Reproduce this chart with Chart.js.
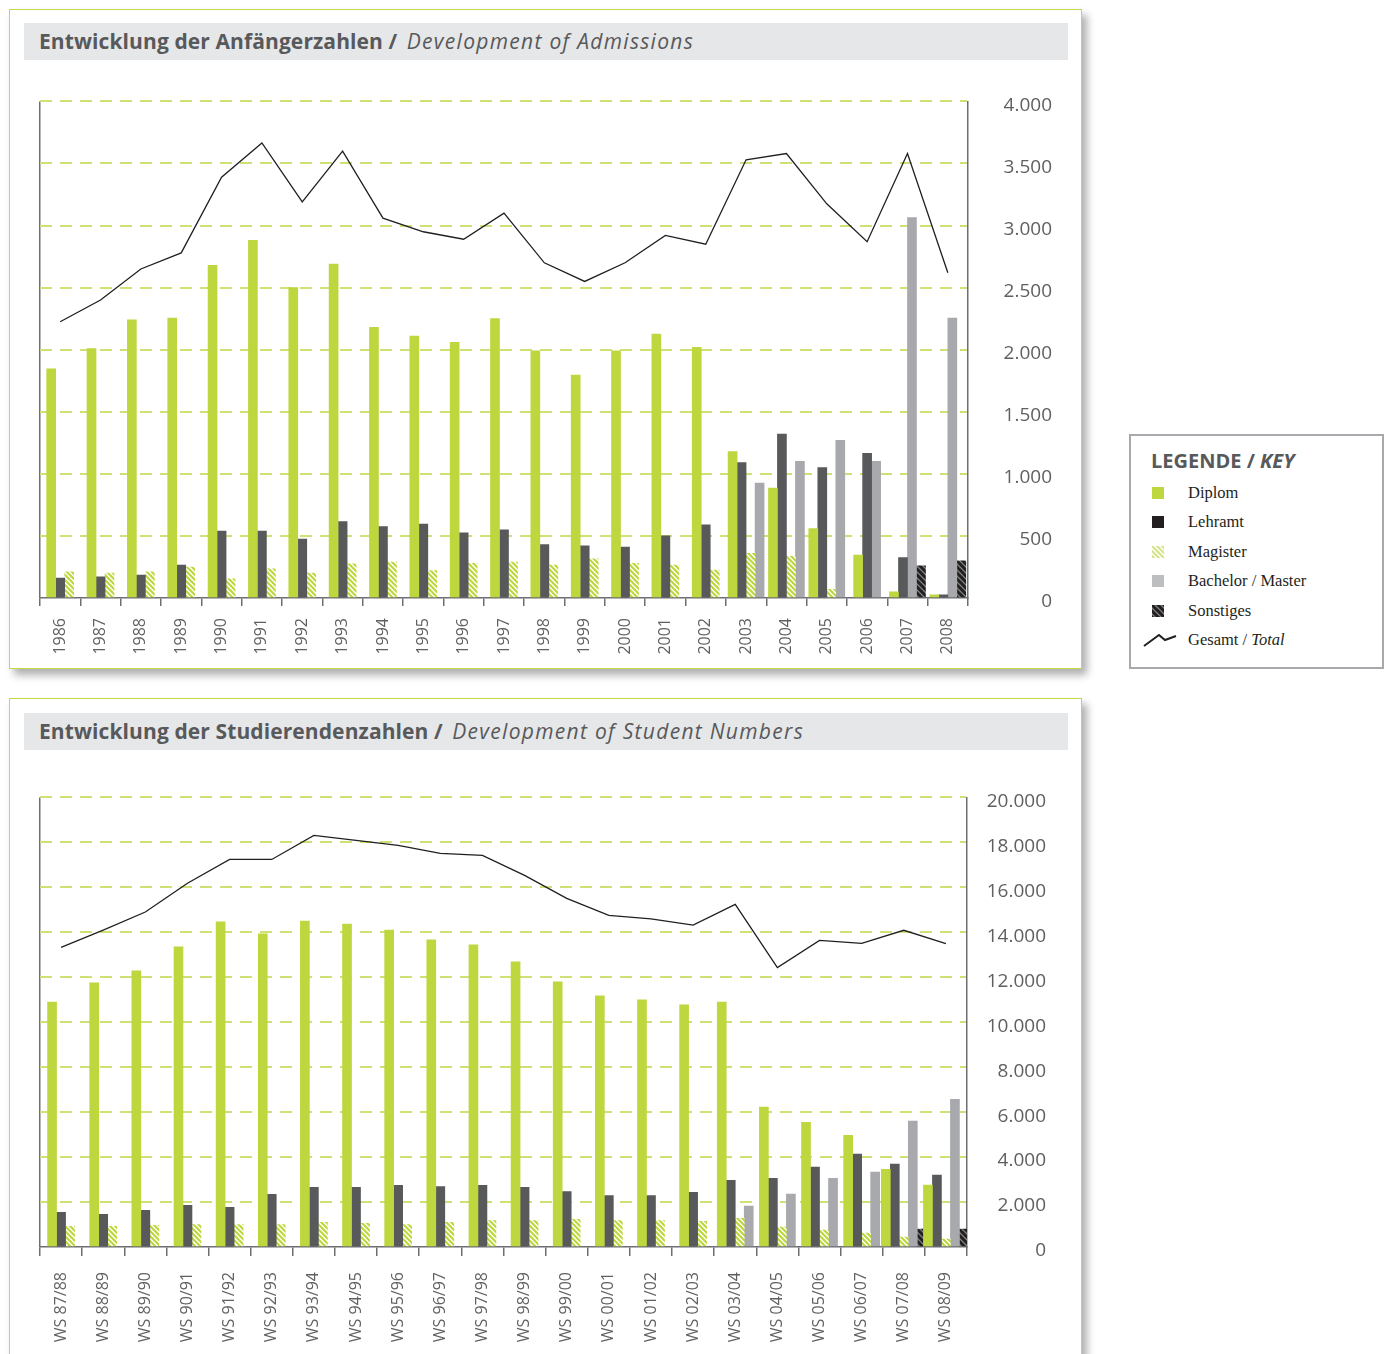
<!DOCTYPE html>
<html lang="de">
<head>
<meta charset="utf-8">
<title>Entwicklung der Anfänger- und Studierendenzahlen</title>
<script src="https://cdn.jsdelivr.net/npm/chart.js@4.4.1/dist/chart.umd.min.js"></script>
<style>
  html, body { margin: 0; padding: 0; background: #fff; }
  body { position: relative; width: 1391px; height: 1354px; overflow: hidden; font-family: "Open Sans", sans-serif; }
  .panel { position: absolute; left: 9px; width: 1071px; border: 1px solid #c4d946; background: #fff; box-shadow: 5px 6px 8px rgba(0,0,0,.32); }
  #panel1 { top: 9px; height: 658px; }
  #panel2 { top: 698px; height: 720px; }
  .title { position: absolute; left: 14px; width: 1044px; height: 37px; background: #e6e7e8; color: #58595b;
           font-size: 21px; line-height: 37px; padding-left: 15px; box-sizing: border-box; white-space: nowrap; }
  .title b { font-weight: 700; letter-spacing: 0.1px; }
  .title i { font-weight: 400; letter-spacing: 1.3px; margin-left: 4px; }
  #panel1 .title { top: 13px; }
  #panel2 .title { top: 14px; }
  .chart { position: absolute; left: 30px; width: 1040px; }
  #box1 { top: 90px; height: 580px; }
  #box2 { top: 786px; height: 568px; }
  #legend { position: absolute; left: 1129px; top: 434px; width: 255px; height: 235px; box-sizing: border-box;
            border: 2.5px solid #a7a9ac; background: #fff; }
  #legend .head { position: absolute; left: 20px; top: 13px; line-height: 24px; font-size: 20px; font-weight: 700; color: #58595b; white-space: nowrap; }
  #legend .row { position: absolute; left: 0; height: 20px; width: 100%; }
  #legend .row canvas { position: absolute; top: 4px; }
  #legend .row span { position: absolute; left: 57px; top: 0; line-height: 20px; font-family: "Liberation Serif", serif; font-size: 16.5px; color: #231f20; white-space: nowrap; }
</style>
</head>
<body>

<div class="panel" id="panel1">
  <div class="title"><b>Entwicklung der Anfängerzahlen /</b> <i>Development of Admissions</i></div>
</div>
<div class="panel" id="panel2">
  <div class="title"><b>Entwicklung der Studierendenzahlen /</b> <i>Development of Student Numbers</i></div>
</div>

<div class="chart" id="box1"><canvas id="admissions"></canvas></div>
<div class="chart" id="box2"><canvas id="students"></canvas></div>

<div id="legend">
  <div class="head">LEGENDE / <i>KEY</i></div>
</div>

<script>
// admissions (Anfänger) per year
var years = ['1986','1987','1988','1989','1990','1991','1992','1993','1994','1995','1996','1997',
             '1998','1999','2000','2001','2002','2003','2004','2005','2006','2007','2008'];
var adDiplom    = [1845, 2010, 2240, 2255, 2680, 2880, 2500, 2690, 2180, 2110, 2060, 2250, 1990, 1795, 1990, 2125, 2020, 1180, 885, 560, 345, 50, 25];
var adLehramt   = [160, 170, 185, 265, 540, 540, 475, 615, 575, 595, 525, 550, 430, 420, 410, 500, 590, 1090, 1320, 1050, 1165, 325, 25];
var adMagister  = [210, 200, 210, 250, 155, 235, 200, 275, 290, 220, 280, 290, 265, 315, 280, 265, 225, 360, 335, 70, null, null, null];
var adBachelor  = [null, null, null, null, null, null, null, null, null, null, null, null, null, null, null, null, null, 925, 1100, 1270, 1100, 3065, 2255];
var adSonstiges = [null, null, null, null, null, null, null, null, null, null, null, null, null, null, null, null, null, null, null, null, null, 260, 300];
var adGesamt    = [2225, 2400, 2650, 2780, 3390, 3665, 3190, 3600, 3060, 2950, 2890, 3100, 2700, 2550, 2700, 2920, 2850, 3530, 3580, 3175, 2870, 3580, 2620];

// student numbers per winter semester
var semesters = ['WS 87/88','WS 88/89','WS 89/90','WS 90/91','WS 91/92','WS 92/93','WS 93/94','WS 94/95',
                 'WS 95/96','WS 96/97','WS 97/98','WS 98/99','WS 99/00','WS 00/01','WS 01/02','WS 02/03',
                 'WS 03/04','WS 04/05','WS 05/06','WS 06/07','WS 07/08','WS 08/09'];
var stDiplom    = [10900, 11750, 12280, 13350, 14460, 13930, 14500, 14370, 14100, 13660, 13440, 12680, 11800, 11170, 11000, 10770, 10900, 6220, 5550, 4970, 3460, 2750];
var stLehramt   = [1540, 1450, 1630, 1850, 1760, 2340, 2650, 2650, 2740, 2690, 2740, 2650, 2470, 2290, 2290, 2430, 2970, 3060, 3550, 4130, 3690, 3200];
var stMagister  = [920, 920, 960, 1000, 1000, 1000, 1100, 1050, 1000, 1100, 1180, 1180, 1230, 1180, 1180, 1140, 1270, 890, 750, 620, 440, 355];
var stBachelor  = [null, null, null, null, null, null, null, null, null, null, null, null, null, null, null, null, 1820, 2350, 3060, 3330, 5600, 6570];
var stSonstiges = [null, null, null, null, null, null, null, null, null, null, null, null, null, null, null, null, null, null, null, null, 800, 800];
var stGesamt    = [13330, 14100, 14900, 16180, 17240, 17240, 18310, 18090, 17870, 17510, 17420, 16530, 15510, 14750, 14600, 14320, 15240, 12430, 13640, 13510, 14090, 13500];

var seriesNames = ['Diplom', 'Lehramt', 'Magister', 'Bachelor / Master', 'Sonstiges'];

var GREEN = '#bed73f', DARK = '#58595b', LIGHT = '#a7a9ac', AXIS = '#6d6e71', GRID = '#cfe074', TEXT = '#5f6062';

Chart.defaults.font.family = "'Open Sans', sans-serif";

// diagonal stripes "\\\"
function stripes(bg, fg, size, width) {
    var c = document.createElement('canvas');
    c.width = c.height = size;
    var g = c.getContext('2d');
    g.fillStyle = bg;
    g.fillRect(0, 0, size, size);
    g.strokeStyle = fg;
    g.lineWidth = width;
    g.beginPath();
    for (var k = -1; k <= 1; k++) {
        g.moveTo(-1, -1 + k * size);
        g.lineTo(size + 1, size + 1 + k * size);
    }
    g.stroke();
    return g.createPattern(c, 'repeat');
}

var MAGISTER = stripes('#ffffff', GREEN, 5, 2.2);
var SONSTIGES = stripes('#808285', '#231f20', 6, 3);
var fills = [GREEN, DARK, MAGISTER, LIGHT, SONSTIGES];

function thousands(v) {
    return String(v).replace(/\B(?=(\d{3})+(?!\d))/g, '.');
}

// one chart: grouped bars without gaps for missing series + total line
// geo.yw = distance plot right edge -> right edge of the y labels
function makeChart(id, labels, bars, total, max, step, geo) {
    var datasets = [{
        type: 'line',
        data: total,
        borderColor: '#231f20',
        borderWidth: 1.3,
        pointRadius: 0,
        tension: 0,
        fill: false,
        order: 0
    }];
    bars.forEach(function(values, i) {
        datasets.push({
            type: 'bar',
            label: seriesNames[i],
            data: values,
            backgroundColor: fills[i],
            borderWidth: 0,
            barThickness: 9,
            skipNull: true,
            order: 1
        });
    });

    return new Chart(document.getElementById(id), {
        data: { labels: labels, datasets: datasets },
        options: {
            responsive: true,
            maintainAspectRatio: false,
            animation: false,
            events: [],
            layout: { padding: { left: 10, top: 11, right: geo.pr, bottom: 0 } },
            plugins: { legend: { display: false }, tooltip: { enabled: false } },
            scales: {
                x: {
                    offset: true,
                    grid: {
                        offset: true,
                        drawOnChartArea: true,
                        color: function(c) { return c.index === 0 ? AXIS : 'rgba(0,0,0,0)'; },
                        lineWidth: 1.5,
                        tickLength: geo.tick,
                        tickColor: AXIS,
                        tickWidth: 1.5
                    },
                    border: { display: true, color: AXIS, width: 1.5 },
                    ticks: {
                        autoSkip: false,
                        minRotation: 90,
                        maxRotation: 90,
                        padding: geo.xpad,
                        color: TEXT,
                        font: { size: 16 }
                    },
                    afterFit: function(s) { s.height = geo.xh; }
                },
                y: {
                    position: 'right',
                    min: 0,
                    max: max,
                    grid: {
                        drawTicks: false,
                        color: function(c) { return c.tick && c.tick.value === 0 ? 'rgba(0,0,0,0)' : GRID; },
                        lineWidth: 2
                    },
                    border: { display: true, color: AXIS, width: 1.5, dash: [12, 8] },
                    ticks: {
                        stepSize: step,
                        crossAlign: 'far',
                        padding: 0,
                        labelOffset: 4,
                        color: TEXT,
                        font: { size: 19 },
                        callback: function(v) { return thousands(v); }
                    },
                    afterFit: function(s) { s.width = geo.yw; }
                }
            }
        }
    });
}

makeChart('admissions', years, [adDiplom, adLehramt, adMagister, adBachelor, adSonstiges], adGesamt, 4000, 500,
          { tick: 8, xpad: 12, xh: 72, yw: 84, pr: 18 });
makeChart('students', semesters, [stDiplom, stLehramt, stMagister, stBachelor, stSonstiges], stGesamt, 20000, 2000,
          { tick: 9, xpad: 16, xh: 107, yw: 79, pr: 24 });

// legend box
var legend = document.getElementById('legend');
var legendSwatch = [GREEN, '#231f20', stripes('#ffffff', '#d4e48a', 5, 2.2), '#bcbec0', SONSTIGES];
seriesNames.concat(['Gesamt']).forEach(function(name, i) {
    var row = document.createElement('div');
    row.className = 'row';
    row.style.top = (46.5 + i * 29.5) + 'px';
    var c = document.createElement('canvas');
    var g = c.getContext('2d');
    if (i < 5) {
        c.width = 12; c.height = 12;
        c.style.left = '21px';
        g.fillStyle = legendSwatch[i];
        g.fillRect(0, 0, 12, 12);
    } else {
        c.width = 34; c.height = 16;
        c.style.left = '12px';
        c.style.top = '2px';
        g.strokeStyle = '#231f20';
        g.lineWidth = 2;
        g.beginPath();
        g.moveTo(1, 14); g.lineTo(16, 3); g.lineTo(22, 8); g.lineTo(33, 4);
        g.stroke();
    }
    row.appendChild(c);
    var t = document.createElement('span');
    if (i < 5) t.textContent = name;
    else t.innerHTML = 'Gesamt / <i>Total</i>';
    row.appendChild(t);
    legend.appendChild(row);
});
</script>
</body>
</html>
